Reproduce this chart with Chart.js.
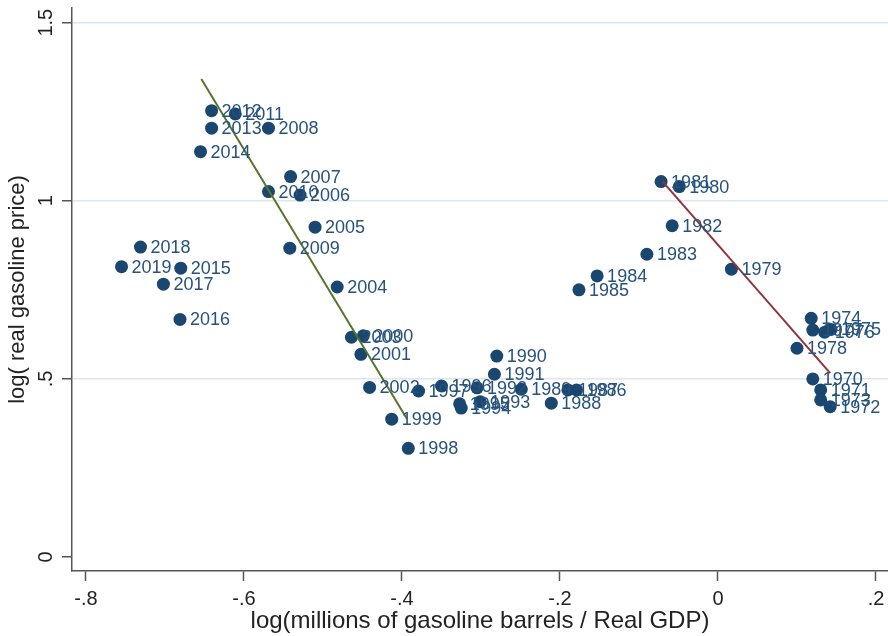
<!DOCTYPE html>
<html>
<head>
<meta charset="utf-8">
<script src="https://cdn.jsdelivr.net/npm/chart.js@4.4.0/dist/chart.umd.min.js"></script>
<style>
  html, body { margin: 0; padding: 0; background: #ffffff; }
  #wrap { width: 888px; height: 636px; }
</style>
</head>
<body>
<div id="wrap"><canvas id="c" width="888" height="636"></canvas></div>
<script>
// Year of each observation
const years = [
  1970, 1971, 1972, 1973, 1974, 1975, 1976, 1977, 1978, 1979,
  1980, 1981, 1982, 1983, 1984, 1985, 1986, 1987, 1988, 1989,
  1990, 1991, 1992, 1993, 1994, 1995, 1996, 1997, 1998, 1999,
  2000, 2001, 2002, 2003, 2004, 2005, 2006, 2007, 2008, 2009,
  2010, 2011, 2012, 2013, 2014, 2015, 2016, 2017, 2018, 2019
];
// log(millions of gasoline barrels / real GDP)
const gasIntensity = [
  0.120, 0.130, 0.142, 0.130, 0.118, 0.143, 0.135, 0.120, 0.100, 0.017,
  -0.049, -0.072, -0.058, -0.090, -0.153, -0.176, -0.179, -0.190, -0.211, -0.249,
  -0.280, -0.283, -0.305, -0.301, -0.325, -0.327, -0.350, -0.379, -0.392, -0.413,
  -0.449, -0.452, -0.441, -0.464, -0.482, -0.510, -0.529, -0.541, -0.569, -0.542,
  -0.569, -0.611, -0.641, -0.641, -0.655, -0.680, -0.681, -0.702, -0.731, -0.755
];
// log(real gasoline price)
const gasPrice = [
  0.500, 0.469, 0.422, 0.441, 0.670, 0.639, 0.631, 0.637, 0.586, 0.808,
  1.040, 1.054, 0.930, 0.850, 0.789, 0.750, 0.469, 0.469, 0.432, 0.471,
  0.564, 0.513, 0.475, 0.436, 0.418, 0.430, 0.480, 0.466, 0.305, 0.387,
  0.621, 0.569, 0.476, 0.617, 0.758, 0.926, 1.016, 1.068, 1.204, 0.867,
  1.026, 1.244, 1.253, 1.204, 1.138, 0.811, 0.667, 0.766, 0.870, 0.815
];
// Fitted lines: 1998-2014 decline and 1979-1981 to 1970s segment
const fitRecentX = [-0.654, -0.394];
const fitRecentY = [1.342, 0.389];
const fitEarlyX = [-0.070, 0.142];
const fitEarlyY = [1.054, 0.516];
// Axis ticks
const xTicks = [-0.8, -0.6, -0.4, -0.2, 0, 0.2];
const yTicks = [0, 0.5, 1, 1.5];

const FONT = '"Liberation Sans", Arial, Helvetica, sans-serif';
const NAVY = 'rgb(26,71,111)';
const AXIS = '#555555';

// Stata-style numbers: ".5", "-.8", "1.5"
function stataNum(v) {
  const r = Math.round(v * 10) / 10;
  if (r === 0) return '0';
  let s = String(r);
  s = s.replace(/^0\./, '.').replace(/^-0\./, '-.');
  return s;
}

const toPoints = (xs, ys) => xs.map((x, i) => ({ x: x, y: ys[i] }));

// Keep the plot area flush with the canvas edges
function noEdgePadding(s) {
  s.paddingLeft = 0; s.paddingRight = 0; s.paddingTop = 0; s.paddingBottom = 0;
}

const yearLabels = {
  id: 'yearLabels',
  afterDatasetsDraw(chart) {
    const meta = chart.getDatasetMeta(0);
    const ctx = chart.ctx;
    ctx.save();
    ctx.font = '18px ' + FONT;
    ctx.fillStyle = 'rgb(38,82,124)';
    ctx.textAlign = 'left';
    ctx.textBaseline = 'middle';
    meta.data.forEach((pt, i) => {
      ctx.fillText(String(years[i]), pt.x + 10, pt.y + 1);
    });
    ctx.restore();
  }
};

new Chart(document.getElementById('c'), {
  type: 'scatter',
  data: {
    datasets: [
      {
        data: toPoints(gasIntensity, gasPrice),
        backgroundColor: NAVY,
        borderColor: NAVY,
        pointRadius: 6.5,
        pointHoverRadius: 6.5,
        borderWidth: 0,
        order: 2
      },
      {
        type: 'line',
        data: toPoints(fitRecentX, fitRecentY),
        borderColor: 'rgb(85,117,47)',
        borderWidth: 2,
        pointRadius: 0,
        fill: false,
        order: 1
      },
      {
        type: 'line',
        data: toPoints(fitEarlyX, fitEarlyY),
        borderColor: 'rgb(144,53,59)',
        borderWidth: 2,
        pointRadius: 0,
        fill: false,
        order: 1
      }
    ]
  },
  options: {
    responsive: false,
    animation: false,
    devicePixelRatio: 1,
    layout: { autoPadding: false, padding: { top: 8, right: 0, bottom: 0, left: 0 } },
    plugins: { legend: { display: false }, tooltip: { enabled: false } },
    events: [],
    scales: {
      x: {
        type: 'linear',
        min: -0.8177,
        max: 0.2152,
        afterBuildTicks: (s) => { s.ticks = xTicks.map(v => ({ value: v })); },
        afterFit: (s) => { s.height = 65; noEdgePadding(s); },
        border: { display: true, color: AXIS, width: 1.5 },
        grid: { drawOnChartArea: false, drawTicks: true, tickLength: 10, tickColor: AXIS, tickWidth: 1.5 },
        ticks: {
          callback: (v) => stataNum(v),
          font: { family: FONT, size: 20 },
          color: '#222222',
          padding: 6,
          maxRotation: 0,
          autoSkip: false
        },
        title: {
          display: true,
          text: 'log(millions of gasoline barrels / Real GDP)',
          font: { family: FONT, size: 24 },
          color: '#222222',
          padding: { top: 0, bottom: 0 }
        }
      },
      y: {
        type: 'linear',
        min: -0.0393,
        max: 1.5413,
        afterBuildTicks: (s) => { s.ticks = yTicks.map(v => ({ value: v })); },
        afterFit: (s) => { s.width = 72; noEdgePadding(s); },
        border: { display: true, color: AXIS, width: 1.5 },
        grid: {
          color: (c) => (c.tick && c.tick.value === 0) ? 'rgba(0,0,0,0)' : 'rgb(221,230,235)',
          lineWidth: 1.5,
          drawTicks: true,
          tickLength: 10,
          tickColor: AXIS,
          tickWidth: 1.5
        },
        ticks: {
          callback: (v) => stataNum(v),
          font: { family: FONT, size: 20 },
          color: '#222222',
          padding: 2,
          minRotation: 90,
          maxRotation: 90,
          crossAlign: 'center',
          autoSkip: false
        },
        title: {
          display: true,
          text: 'log( real gasoline price)',
          font: { family: FONT, size: 22 },
          color: '#222222',
          padding: { top: 5, bottom: 0 }
        }
      }
    }
  },
  plugins: [yearLabels]
});
</script>
</body>
</html>
